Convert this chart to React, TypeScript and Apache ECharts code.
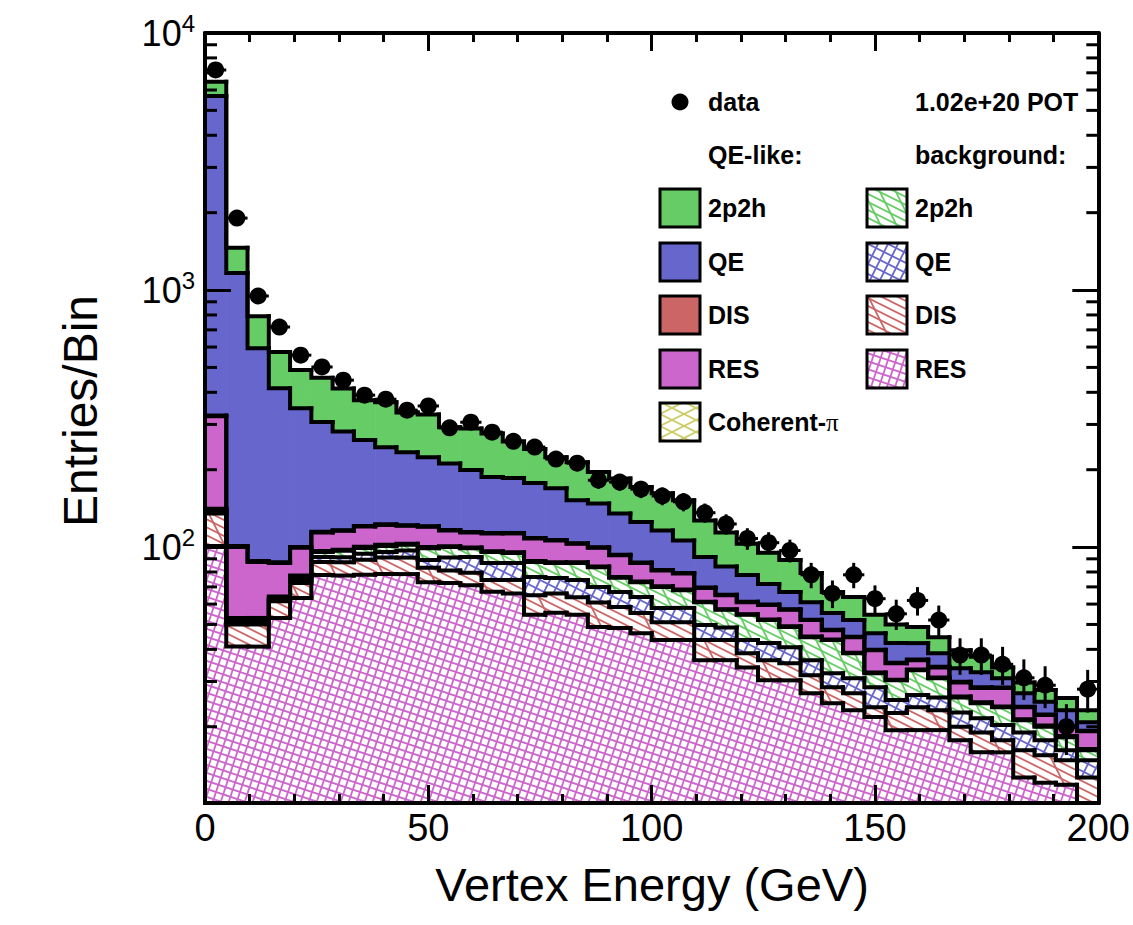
import React, { useEffect, useRef } from "react";
import * as echarts from "echarts";

// ---------------- data ----------------
const X_MIN = 0;
const X_MAX = 200;
const N_BINS = 42;
const X_TICK_STEP = 50;
const Y_MIN = 10.1;
const Y_MAX = 10000;

const DATA = [
  7180, 1905, 948, 718, 558, 502, 446, 390, 376, 341,
  354, 291, 306, 280, 258, 245, 220, 212, 182, 179,
  168, 158, 150, 136, 123, 108, 104, 97, 78, 66,
  78, 63, 55, 62, 52, 38, 38, 35, 31, 29,
  20, 28,
];

// background (hatched)
const BKG_RES = [
  101, 41, 41, 53, 63.4, 77.8, 77.5, 78, 78.5, 78.5,
  73, 72.5, 71, 67, 66, 54.5, 55.5, 54.5, 48.9, 48.4,
  46.2, 43.5, 43.5, 36.3, 36.3, 34, 30.3, 30.3, 27, 24.7,
  23.2, 21.8, 19.4, 19.4, 19.4, 17.7, 15.9, 15.9, 12.7, 12.1,
  11.9, 9,
];
const BKG_DIS = [
  34, 9, 9, 8.6, 9.1, 9.7, 9.7, 11.2, 12.5, 12.5,
  10, 8.5, 8.5, 7.5, 8.5, 10.5, 10.5, 9.3, 12, 10.1,
  9.2, 7.5, 7.5, 7.2, 7.2, 4.6, 6, 5, 4.7, 3.8,
  3.8, 2, 3.2, 4.4, 3.8, 2.3, 3.1, 1.8, 3.5, 3.4,
  2.9, 3.7,
];
const BKG_QE = [
  3, 1, 1, 1.2, 2, 4, 4, 5, 4.7, 6,
  6, 10, 12, 12.2, 12.2, 11.5, 9.8, 10.7, 9.1, 8.3,
  8.6, 7, 7, 6.2, 5.1, 4.9, 6, 5.5, 4.6, 3.8,
  3.9, 4.7, 2.8, 2.8, 2.8, 2.7, 2.6, 2.6, 2.8, 2.2,
  1.4, 2.1,
];
const BKG_2P2H = [
  2, 1, 1, 0.6, 2, 4.2, 5.5, 5, 5.3, 5,
  10, 9, 7.5, 9, 8.1, 11, 10.9, 12.2, 13.5, 9.2,
  9, 12, 10, 11.3, 8.4, 11, 9.7, 8.1, 8.3, 11.2,
  7.7, 3.8, 4.9, 6.6, 4.9, 3.3, 3.1, 3.5, 2.2, 2.3,
  2, 1.4,
];
// QE-like (solid)
const SIG_COH = [
  1, 1, 1, 0.8, 1, 0.8, 1, 1, 1, 1,
  1, 0.7, 0.7, 0.7, 0.7, 0.7, 0.6, 0.6, 0.5, 0.5,
  0.5, 0.4, 0.4, 0.3, 0.3, 0.3, 0.3, 0.3, 0.3, 0.2,
  0.2, 0.2, 0.2, 0.2, 0.2, 0.2, 0.2, 0.2, 0.2, 0.2,
  0.2, 0.2,
];
const SIG_RES = [
  182, 47, 34.5, 22.5, 22, 17.5, 18, 20, 20, 18,
  20, 15.3, 14.3, 16.6, 17.5, 19.8, 18.7, 15.7, 15.5, 16.5,
  13.2, 10.6, 10.6, 8, 7.7, 6.2, 7.2, 7.8, 7.1, 3.8,
  5.8, 7.2, 4.8, 2.9, 2.9, 3.5, 3.4, 4.3, 2.4, 2,
  1.6, 2.8,
];
const SIG_DIS = [
  2, 1, 0.8, 0.6, 0.6, 0.6, 0.6, 0.6, 0.6, 0.6,
  0.6, 0.5, 0.5, 0.5, 0.5, 0.5, 0.5, 0.4, 0.4, 0.4,
  0.4, 0.4, 0.3, 0.3, 0.3, 0.3, 0.3, 0.3, 0.2, 0.2,
  0.2, 0.2, 0.2, 0.2, 0.2, 0.2, 0.2, 0.1, 0.1, 0.1,
  0.1, 0.1,
];
const SIG_QE = [
  5365, 1064, 506, 328, 247, 192, 165, 140, 122, 112,
  103, 95, 85, 74, 72, 69, 63, 48.6, 48, 41.6,
  38, 34.6, 26.7, 21.9, 18.7, 16.5, 12, 9.5, 8.8, 7.7,
  7.2, 6.3, 6.8, 5.8, 4.4, 3.9, 4.1, 2.5, 3.1, 2.7,
  3.1, 1.5,
];
const SIG_2P2H = [
  770, 295, 196, 159, 141, 149, 133, 112, 121, 100,
  104, 81, 90, 89, 72, 63, 54, 62, 48, 50,
  46, 46, 46, 35.5, 30, 25.2, 23.2, 22.2, 18.3, 11.4,
  12, 8.3, 7.7, 6.6, 6, 5.9, 4.8, 3.1, 2.7, 2.8,
  2.7, 2.4,
];

const LEGEND_SIG = ["2p2h", "QE", "DIS", "RES", "Coherent-"];
const LEGEND_BKG = ["2p2h", "QE", "DIS", "RES"];
const X_TITLE = "Vertex Energy (GeV)";
const Y_TITLE = "Entries/Bin";
const POT_TEXT = "1.02e+20 POT";

// ---------------- style ----------------
const FONT = '"Liberation Sans", Arial, Helvetica, sans-serif';
const C_GREEN = "#66cc66";
const C_BLUE = "#6666cc";
const C_RED = "#cc6666";
const C_MAG = "#cc66cc";
const C_YEL = "#cccc66";

type Fam = { steep: boolean; s: number; d: number };
function hatch(color: string, fams: Fam[], size = 96, lw = 1.8) {
  const c = document.createElement("canvas");
  c.width = size;
  c.height = size;
  const ctx = c.getContext("2d")!;
  ctx.strokeStyle = color;
  ctx.lineWidth = lw;
  for (const f of fams) {
    const span = Math.abs(f.s) * size + 2 * f.d + 10;
    const n0 = Math.floor(-span / f.d);
    const n1 = Math.ceil((size + span) / f.d);
    for (let n = n0; n <= n1; n++) {
      const b = n * f.d;
      ctx.beginPath();
      if (!f.steep) {
        ctx.moveTo(-8, f.s * -8 + b);
        ctx.lineTo(size + 8, f.s * (size + 8) + b);
      } else {
        ctx.moveTo(f.s * -8 + b, -8);
        ctx.lineTo(f.s * (size + 8) + b, size + 8);
      }
      ctx.stroke();
    }
  }
  return { image: c, repeat: "repeat", imageWidth: size, imageHeight: size } as any;
}

export default function App() {
  const ref = useRef<HTMLDivElement>(null);
  useEffect(() => {
    const el = ref.current!;
    const chart = echarts.init(el, undefined, { renderer: "svg", width: 1133, height: 925 });

    const P_BKG_2P2H = hatch(C_GREEN, [
      { steep: false, s: 0.5, d: 8 },
      { steep: true, s: 0.5, d: 16 },
    ]);
    const P_BKG_QE = hatch(
      C_BLUE,
      [
        { steep: false, s: 0.5, d: 10 },
        { steep: true, s: -0.5, d: 10 },
      ],
      120
    );
    const P_BKG_DIS = hatch(C_RED, [
      { steep: false, s: 0.5, d: 8 },
      { steep: true, s: 0.5, d: 48 },
    ]);
    const P_BKG_RES = hatch(C_MAG, [
      { steep: false, s: 1 / 3, d: 8 },
      { steep: true, s: -1 / 3, d: 8 },
    ]);
    const P_COH = hatch(C_YEL, [
      { steep: false, s: 0.5, d: 12 },
      { steep: false, s: -0.5, d: 12 },
    ]);

    const EDGES = Array.from({ length: N_BINS + 1 }, (_, i) => X_MIN + (i * (X_MAX - X_MIN)) / N_BINS);

    const STACK = [BKG_RES, BKG_DIS, BKG_QE, BKG_2P2H, SIG_COH, SIG_RES, SIG_DIS, SIG_QE, SIG_2P2H];
    const FILLS = [P_BKG_RES, P_BKG_DIS, P_BKG_QE, P_BKG_2P2H, P_COH, C_MAG, C_RED, C_BLUE, C_GREEN];
    const cum: number[][] = [];
    let run = new Array(N_BINS).fill(0);
    STACK.forEach((arr) => {
      run = run.map((r: number, i: number) => r + arr[i]);
      cum.push(run);
    });

    const clampY = (y: number, cs: any) => Math.max(cs.y, Math.min(cs.y + cs.height, y));

    const fillSeries = STACK.map((_, k) => ({
      type: "custom",
      silent: true,
      z: 2,
      coordinateSystem: "cartesian2d",
      xAxisIndex: 0,
      yAxisIndex: 0,
      encode: { x: [0, 1], y: [2, 3] },
      data: Array.from({ length: N_BINS }, (_, i) => [
        EDGES[i],
        EDGES[i + 1],
        k === 0 ? Y_MIN : cum[k - 1][i],
        cum[k][i],
      ]),
      renderItem: (params: any, api: any) => {
        const cs = params.coordSys;
        const a = api.coord([api.value(0), api.value(3)]);
        const b = api.coord([api.value(1), api.value(2)]);
        const top = clampY(a[1], cs);
        const bot = clampY(b[1], cs);
        if (!(bot - top > 0.01)) return null;
        return {
          type: "rect",
          shape: { x: a[0], y: top, width: b[0] - a[0] + 0.6, height: bot - top },
          style: { fill: FILLS[k] },
        };
      },
    }));

    const outlineSeries = STACK.map((_, k) => ({
      type: "custom",
      silent: true,
      z: 3,
      coordinateSystem: "cartesian2d",
      xAxisIndex: 0,
      yAxisIndex: 0,
      encode: { x: [0, 1], y: [2, 3] },
      data: Array.from({ length: N_BINS }, (_, i) => [
        EDGES[i],
        EDGES[i + 1],
        i === 0 ? Y_MIN : cum[k][i - 1],
        cum[k][i],
      ]),
      renderItem: (params: any, api: any) => {
        const cs = params.coordSys;
        const p0 = api.coord([api.value(0), api.value(2)]);
        const p1 = api.coord([api.value(0), api.value(3)]);
        const p2 = api.coord([api.value(1), api.value(3)]);
        return {
          type: "polyline",
          shape: {
            points: [
              [p0[0], clampY(p0[1], cs)],
              [p1[0], clampY(p1[1], cs)],
              [p2[0], clampY(p2[1], cs)],
            ],
          },
          style: { stroke: "#000", lineWidth: 4, fill: "none", lineCap: "square", lineJoin: "miter" },
        };
      },
    }));

    const errSeries = {
      type: "custom",
      silent: true,
      z: 11,
      coordinateSystem: "cartesian2d",
      encode: { x: [0, 1], y: [2, 3, 4] },
      data: DATA.map((v, i) => [EDGES[i], EDGES[i + 1], v - Math.sqrt(v), v + Math.sqrt(v), v]),
      renderItem: (params: any, api: any) => {
        const cs = params.coordSys;
        const xc = (api.value(0) + api.value(1)) / 2;
        const lo = api.coord([xc, api.value(2)]);
        const hi = api.coord([xc, api.value(3)]);
        const l = api.coord([api.value(0), api.value(4)]);
        const r = api.coord([api.value(1), api.value(4)]);
        const st = { stroke: "#000", lineWidth: 3 };
        return {
          type: "group",
          children: [
            { type: "line", shape: { x1: lo[0], y1: clampY(lo[1], cs), x2: hi[0], y2: clampY(hi[1], cs) }, style: st },
            { type: "line", shape: { x1: l[0], y1: l[1], x2: r[0], y2: r[1] }, style: st },
          ],
        };
      },
    };

    const MINOR_Y: number[] = [];
    for (let dec = 10; dec < Y_MAX; dec *= 10) {
      for (let m = 2; m <= 9; m++) if (m * dec > Y_MIN && m * dec < Y_MAX) MINOR_Y.push(m * dec);
    }
    const minorTickSeries = {
      type: "custom",
      silent: true,
      z: 11,
      coordinateSystem: "cartesian2d",
      encode: { x: 0, y: 1 },
      data: MINOR_Y.map((v) => [X_MIN, v]),
      renderItem: (params: any, api: any) => {
        const p = api.coord([X_MIN, api.value(1)]);
        const q = api.coord([X_MAX, api.value(1)]);
        const st = { stroke: "#000", lineWidth: 3 };
        return {
          type: "group",
          children: [
            { type: "line", shape: { x1: p[0], y1: p[1], x2: p[0] + 12, y2: p[1] }, style: st },
            { type: "line", shape: { x1: q[0] - 12, y1: q[1], x2: q[0], y2: q[1] }, style: st },
          ],
        };
      },
    };

    const axisLine = { show: true, onZero: false, lineStyle: { color: "#000", width: 4 } };
    const xTick = { show: true, inside: true, length: 18, lineStyle: { color: "#000", width: 3 } };
    const xMinor = { show: true, splitNumber: 5, length: 9, lineStyle: { color: "#000", width: 3 } };
    const yTick = { show: true, inside: true, length: 26, lineStyle: { color: "#000", width: 3 } };

    const yFormatter = (v: number) => {
      const e = Math.log10(v);
      const r = Math.round(e);
      if (Math.abs(e - r) > 1e-6) return "";
      return `{b|10}{s|${r}}`;
    };

    const legendGraphics: any[] = [];
    const ROW_Y = [208, 262, 315, 369, 422];
    const SIG_FILLS = [C_GREEN, C_BLUE, C_RED, C_MAG, P_COH];
    const BKG_FILLS = [P_BKG_2P2H, P_BKG_QE, P_BKG_DIS, P_BKG_RES];
    const textStyle = (text: string, align = "left") => ({
      text,
      fill: "#000",
      fontSize: 25,
      fontWeight: "bold",
      fontFamily: FONT,
      align,
      verticalAlign: "middle",
      textAlign: align,
      textVerticalAlign: "middle",
    });
    legendGraphics.push({ type: "circle", shape: { cx: 680, cy: 102, r: 8.5 }, style: { fill: "#000" }, z: 20 });
    legendGraphics.push({ type: "text", x: 708, y: 102, style: textStyle("data"), z: 20 });
    legendGraphics.push({ type: "text", x: 915, y: 102, style: textStyle(POT_TEXT), z: 20 });
    legendGraphics.push({ type: "text", x: 708, y: 155, style: textStyle("QE-like:"), z: 20 });
    legendGraphics.push({ type: "text", x: 915, y: 155, style: textStyle("background:"), z: 20 });
    LEGEND_SIG.forEach((lab, i) => {
      legendGraphics.push({
        type: "rect",
        shape: { x: 660, y: ROW_Y[i] - 19, width: 40, height: 38 },
        style: { fill: SIG_FILLS[i], stroke: "#000", lineWidth: 3 },
        z: 20,
      });
      if (i === 4) {
        legendGraphics.push({
          type: "text",
          x: 708,
          y: ROW_Y[i],
          z: 20,
          style: {
            text: `{a|${lab}}{p|π}`,
            verticalAlign: "middle",
            textVerticalAlign: "middle",
            rich: {
              a: { fontSize: 25, fontWeight: "bold", fontFamily: FONT, fill: "#000", color: "#000" },
              p: { fontSize: 25, fontFamily: '"Liberation Serif", "DejaVu Serif", serif', fill: "#000", color: "#000" },
            },
          },
        });
      } else {
        legendGraphics.push({ type: "text", x: 708, y: ROW_Y[i], style: textStyle(lab), z: 20 });
      }
    });
    LEGEND_BKG.forEach((lab, i) => {
      legendGraphics.push({
        type: "rect",
        shape: { x: 867, y: ROW_Y[i] - 19, width: 40, height: 38 },
        style: { fill: BKG_FILLS[i], stroke: "#000", lineWidth: 3 },
        z: 20,
      });
      legendGraphics.push({ type: "text", x: 915, y: ROW_Y[i], style: textStyle(lab), z: 20 });
    });
    legendGraphics.push({
      type: "text",
      x: 652,
      y: 884,
      z: 20,
      style: {
        text: X_TITLE,
        fill: "#000",
        fontSize: 47,
        fontFamily: FONT,
        align: "center",
        verticalAlign: "middle",
        textAlign: "center",
        textVerticalAlign: "middle",
      },
    });
    legendGraphics.push({
      type: "text",
      x: 80,
      y: 411,
      rotation: Math.PI / 2,
      z: 20,
      style: {
        text: Y_TITLE,
        fill: "#000",
        fontSize: 48,
        fontFamily: FONT,
        align: "center",
        verticalAlign: "middle",
        textAlign: "center",
        textVerticalAlign: "middle",
      },
    });

    const option: any = {
      animation: false,
      backgroundColor: "#fff",
      textStyle: { fontFamily: FONT },
      grid: { left: 205, top: 33, width: 895, height: 770, containLabel: false },
      xAxis: [
        {
          type: "value",
          min: X_MIN,
          max: X_MAX,
          interval: X_TICK_STEP,
          position: "bottom",
          z: 10,
          axisLine,
          axisTick: xTick,
          minorTick: xMinor,
          splitLine: { show: false },
          minorSplitLine: { show: false },
          axisLabel: { color: "#000", fontSize: 38, fontFamily: FONT, margin: 6 },
        },
        {
          type: "value",
          min: X_MIN,
          max: X_MAX,
          interval: X_TICK_STEP,
          position: "top",
          z: 10,
          axisLine,
          axisTick: xTick,
          minorTick: xMinor,
          splitLine: { show: false },
          minorSplitLine: { show: false },
          axisLabel: { show: false },
        },
      ],
      yAxis: [
        {
          type: "log",
          logBase: 10,
          min: Y_MIN,
          max: Y_MAX,
          position: "left",
          z: 10,
          axisLine,
          axisTick: yTick,
          splitLine: { show: false },
          axisLabel: {
            formatter: yFormatter,
            margin: 10,
            rich: {
              b: { fontSize: 36, fontFamily: FONT, color: "#000", lineHeight: 44 },
              s: { fontSize: 24, fontFamily: FONT, color: "#000", lineHeight: 24, verticalAlign: "top" },
            },
          },
        },
        {
          type: "log",
          logBase: 10,
          min: Y_MIN,
          max: Y_MAX,
          position: "right",
          z: 10,
          axisLine,
          axisTick: yTick,
          splitLine: { show: false },
          axisLabel: { show: false },
        },
      ],
      graphic: { elements: legendGraphics },
      series: [
        ...fillSeries,
        ...outlineSeries,
        minorTickSeries,
        errSeries,
        {
          type: "scatter",
          silent: true,
          z: 12,
          symbol: "circle",
          symbolSize: 17,
          itemStyle: { color: "#000", opacity: 1 },
          data: DATA.map((v, i) => [(EDGES[i] + EDGES[i + 1]) / 2, v]),
        },
      ],
    };
    chart.setOption(option);
    return () => chart.dispose();
  }, []);
  return (
    <div
      ref={ref}
      style={{ position: "fixed", left: 0, top: 0, width: 1133, height: 925, background: "#fff" }}
    />
  );
}
